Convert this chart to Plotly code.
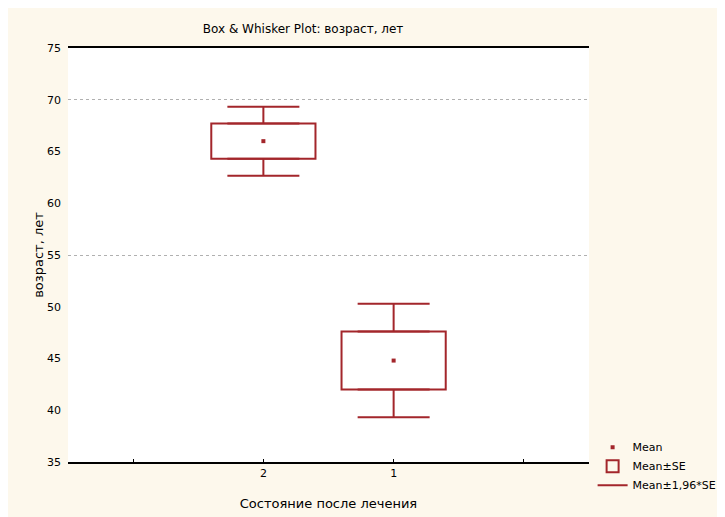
import plotly.graph_objects as go

categories = ["2", "1"]
cat_pos = [1.5, 2.5]
means = [66.0, 44.8]
se = [1.7, 2.8]
k = 1.96

y_ticks = [35, 40, 45, 50, 55, 60, 65, 70, 75]
grid_vals = [55, 70]

RED = "#a3262b"
CREAM = "#fdf8ec"
FONT = "DejaVu Sans, Arial, sans-serif"

fig = go.Figure()

# Mean ± SE boxes
fig.add_trace(go.Bar(
    x=cat_pos, y=[2 * s for s in se], base=[m - s for m, s in zip(means, se)],
    width=0.8, marker=dict(color="rgba(0,0,0,0)", line=dict(color=RED, width=2)),
    name="Mean±SE", showlegend=True, hoverinfo="skip", legendrank=2,
))

# upper whiskers
fig.add_trace(go.Scatter(
    x=cat_pos, y=[m + s for m, s in zip(means, se)], mode="markers",
    marker=dict(size=1, color="rgba(0,0,0,0)"),
    error_y=dict(type="data", symmetric=False,
                 array=[(k - 1) * s for s in se], arrayminus=[0, 0],
                 color=RED, thickness=2, width=36),
    showlegend=False, hoverinfo="skip",
))
# lower whiskers
fig.add_trace(go.Scatter(
    x=cat_pos, y=[m - s for m, s in zip(means, se)], mode="markers",
    marker=dict(size=1, color="rgba(0,0,0,0)"),
    error_y=dict(type="data", symmetric=False,
                 array=[0, 0], arrayminus=[(k - 1) * s for s in se],
                 color=RED, thickness=2, width=36),
    showlegend=False, hoverinfo="skip",
))
# means
fig.add_trace(go.Scatter(
    x=cat_pos, y=means, mode="markers",
    marker=dict(symbol="square", size=4, color=RED),
    name="Mean", legendrank=1,
))
# legend entry for whiskers
fig.add_trace(go.Scatter(
    x=[None], y=[None], mode="lines", line=dict(color=RED, width=2),
    name="Mean±1,96*SE", legendrank=3,
))

fig.update_layout(
    width=725, height=517,
    paper_bgcolor=CREAM, plot_bgcolor="white",
    margin=dict(l=60, r=143, t=40, b=63),
    font=dict(family=FONT, size=11, color="black"),
    title=dict(text="Box & Whisker Plot: возраст, лет", x=0.407, xanchor="center",
               y=1 - 21 / 517, yanchor="middle", font=dict(size=12)),
    showlegend=True,
    legend=dict(x=1.005, xanchor="left", y=-0.01, yanchor="middle",
                bgcolor="rgba(0,0,0,0)", font=dict(size=11),
                itemwidth=30, tracegroupgap=0),
    barmode="overlay",
    xaxis=dict(range=[0, 4], tickvals=[0.5] + cat_pos + [3.5], ticktext=[""] + categories + [""],
               showgrid=False, zeroline=False, showline=True, mirror=True,
               linecolor="black", linewidth=2, ticks="inside", ticklen=3,
               tickcolor="black", automargin=False,
               title=dict(text="Состояние после лечения", standoff=20)),
    yaxis=dict(range=[35, 75], tickvals=y_ticks, showgrid=False, zeroline=False,
               showline=False, ticks="", ticklabelstandoff=6, automargin=False,
               title=dict(text="возраст, лет", standoff=0)),
    yaxis2=dict(range=[35, 75], overlaying="y", tickvals=grid_vals, showticklabels=False,
                showgrid=True, gridcolor="#b0b0b0", griddash="dot", gridwidth=1,
                zeroline=False, showline=False, automargin=False),
)
fig.add_trace(go.Scatter(x=[None], y=[None], yaxis="y2", showlegend=False))

fig.write_html("out.html")
